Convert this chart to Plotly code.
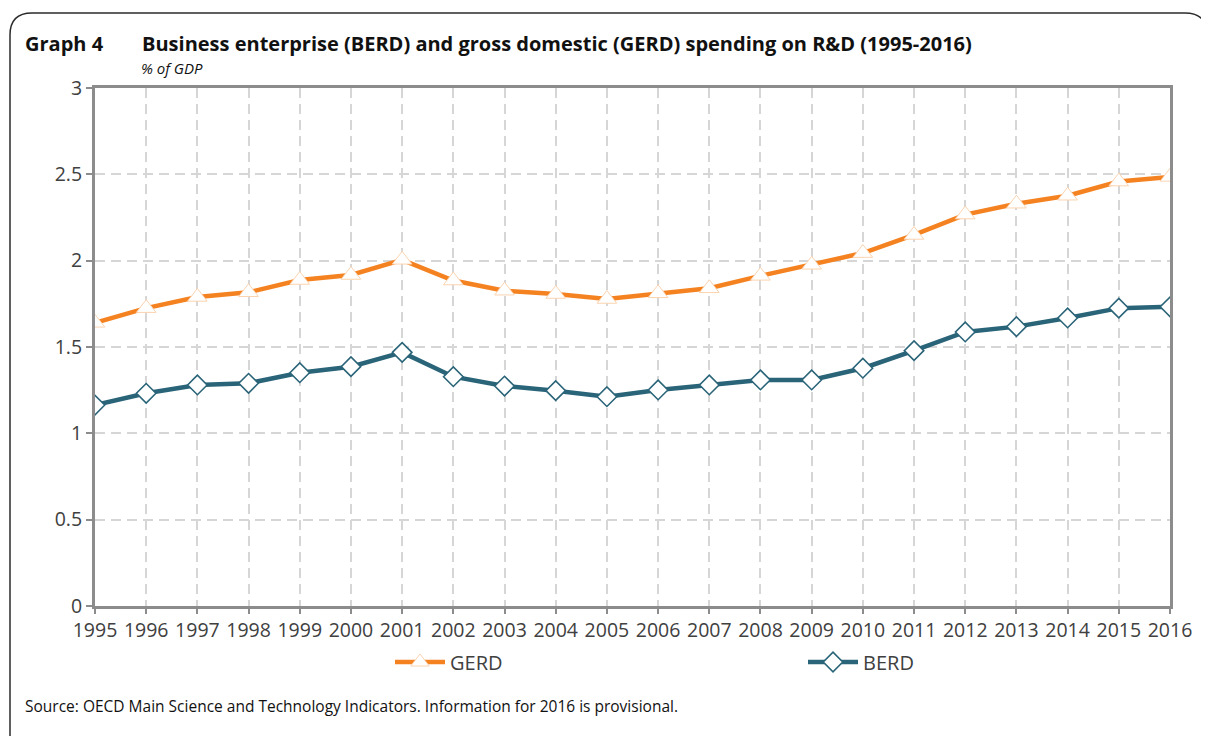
import plotly.graph_objects as go

years = list(range(1995, 2017))
gerd = [1.64, 1.725, 1.79, 1.817, 1.888, 1.917, 2.005, 1.885, 1.826, 1.807, 1.778, 1.811,
        1.84, 1.912, 1.976, 2.044, 2.149, 2.267, 2.33, 2.376, 2.458, 2.485]
berd = [1.164, 1.232, 1.28, 1.29, 1.351, 1.386, 1.469, 1.328, 1.274, 1.247, 1.212, 1.251,
        1.28, 1.309, 1.309, 1.377, 1.479, 1.587, 1.618, 1.668, 1.725, 1.733]
y_ticks = [0, 0.5, 1, 1.5, 2, 2.5, 3]
y_tick_labels = ["0", "0.5", "1", "1.5", "2", "2.5", "3"]

OFF = 8  # default page body margin
W, H = 1209 - OFF, 736 - OFF
L, R, T, B = 95 - OFF, 1170 - OFF, 88 - OFF, 606 - OFF
FONT = "Open Sans"
TXT = "#404040"


def px(x, y):
    # page pixel coords -> paper coords
    x -= OFF
    y -= OFF
    return (x - L) / (R - L), (B - y) / (B - T)


fig = go.Figure()
fig.add_trace(go.Scatter(
    x=years, y=gerd, name="GERD", mode="lines+markers",
    line=dict(color="#f58220", width=4.5),
    marker=dict(symbol="triangle-up", size=17, color="white",
                line=dict(color="#fbd3b0", width=1)),
    legend="legend",
))
fig.add_trace(go.Scatter(
    x=years, y=berd, name="BERD", mode="lines+markers",
    line=dict(color="#2a6478", width=4.5),
    marker=dict(symbol="diamond", size=15, color="white",
                line=dict(color="#2a6478", width=1.6)),
    legend="legend2",
))


def P(p):
    a, b = px(*p)
    return f"{a:.5f},{b:.5f}"


path = (f"M {P((10, 760))} L {P((10, 35))} Q {P((10, 13))} {P((32, 13))} "
        f"L {P((1185, 13))} Q {P((1207, 13))} {P((1207, 35))} L {P((1207, 760))}")
fig.add_shape(type="path", path=path, xref="paper", yref="paper",
              line=dict(color="#2b2b2b", width=1.5), layer="above")

ann = []
gx, gy = px(23, 44)
ann.append(dict(text="<b>Graph 4</b>", x=gx, y=gy, xref="paper", yref="paper",
                xanchor="left", yanchor="middle", showarrow=False,
                font=dict(family=FONT, size=20, color="#111111")))
tx, ty = px(140, 44)
ann.append(dict(text="<b>Business enterprise (BERD) and gross domestic (GERD) spending on R&D (1995-2016)</b>",
                x=tx, y=ty, xref="paper", yref="paper", xanchor="left", yanchor="middle",
                showarrow=False, font=dict(family=FONT, size=20, color="#111111")))
sx, sy = px(139, 68)
ann.append(dict(text="<i>% of GDP</i>", x=sx, y=sy, xref="paper", yref="paper",
                xanchor="left", yanchor="middle", showarrow=False,
                font=dict(family=FONT, size=15, color="#111111")))
ox, oy = px(23, 706)
ann.append(dict(text="Source: OECD Main Science and Technology Indicators. Information for 2016 is provisional.",
                x=ox, y=oy, xref="paper", yref="paper", xanchor="left", yanchor="middle",
                showarrow=False, font=dict(family=FONT, size=15.5, color="#111111")))

l1x, l1y = px(390, 662)
l2x, l2y = px(803, 662)

fig.update_layout(
    width=W, height=H,
    margin=dict(l=L, r=W - R, t=T, b=H - B),
    paper_bgcolor="white", plot_bgcolor="white",
    font=dict(family=FONT, size=20, color=TXT),
    annotations=ann,
    showlegend=True,
    legend=dict(x=l1x, y=l1y, xanchor="left", yanchor="middle", orientation="h",
                itemwidth=50,
                font=dict(family=FONT, size=20, color=TXT), bgcolor="rgba(0,0,0,0)"),
    legend2=dict(x=l2x, y=l2y, xanchor="left", yanchor="middle", orientation="h",
                 itemwidth=50,
                 font=dict(family=FONT, size=20, color=TXT), bgcolor="rgba(0,0,0,0)"),
    xaxis=dict(
        range=[1995, 2016], tickmode="array", tickvals=years, ticktext=[str(y) for y in years],
        showline=True, linecolor="#8c8c8c", linewidth=3, mirror=True,
        ticks="outside", ticklen=5, tickwidth=2, tickcolor="#8c8c8c",
        showgrid=True, gridcolor="#d6d6d6", gridwidth=2, griddash="10px,6px",
        zeroline=False, tickfont=dict(family=FONT, size=19.5, color=TXT),
    ),
    yaxis=dict(
        range=[0, 3], tickmode="array", tickvals=y_ticks, ticktext=y_tick_labels,
        showline=True, linecolor="#8c8c8c", linewidth=3, mirror=True,
        ticks="outside", ticklen=6, tickwidth=2, tickcolor="#8c8c8c",
        showgrid=True, gridcolor="#d6d6d6", gridwidth=2, griddash="10px,6px",
        zeroline=False, tickfont=dict(family=FONT, size=19.5, color=TXT),
    ),
)

fig.write_html("out.html")
